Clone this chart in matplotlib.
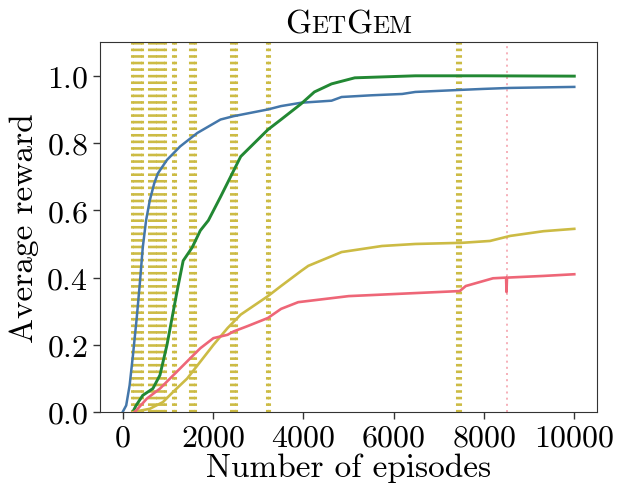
import matplotlib
matplotlib.use("Agg")
import matplotlib.pyplot as plt
from matplotlib.offsetbox import TextArea, HPacker, AnchoredOffsetbox

plt.rcParams["font.family"] = "serif"
plt.rcParams["font.serif"] = ["cmr10"]
plt.rcParams["mathtext.fontset"] = "cm"
plt.rcParams["axes.formatter.use_mathtext"] = True

# curves
blue_x = [0, 80, 156, 230, 313, 380, 447, 520, 603, 700, 782, 983, 1274, 1654,
          2168, 2458, 3218, 3508, 3955, 4626, 4849, 5500, 6190, 6480, 7464,
          7978, 8581, 10000]
blue_y = [0, 0.02, 0.08, 0.17, 0.28, 0.38, 0.49, 0.57, 0.63, 0.68, 0.71, 0.75,
          0.79, 0.83, 0.87, 0.88, 0.90, 0.91, 0.92, 0.926, 0.937, 0.942, 0.946,
          0.952, 0.958, 0.961, 0.964, 0.967]

green_x = [223, 300, 447, 670, 827, 983, 1095, 1207, 1341, 1542, 1721, 1899,
           2168, 2615, 3218, 3508, 3955, 4246, 4626, 5140, 6480, 8000, 10000]
green_y = [0, 0.02, 0.05, 0.07, 0.11, 0.20, 0.28, 0.36, 0.45, 0.49, 0.54, 0.57,
           0.64, 0.76, 0.84, 0.87, 0.917, 0.952, 0.976, 0.994, 1.0, 1.0, 0.999]

yellow_x = [223, 603, 894, 1117, 1430, 1721, 2011, 2324, 2615, 3218, 3508, 3955,
            4112, 4849, 5743, 6480, 7374, 7464, 8134, 8581, 9318, 10000]
yellow_y = [0, 0.01, 0.03, 0.06, 0.10, 0.15, 0.20, 0.25, 0.29, 0.345, 0.375,
            0.42, 0.435, 0.476, 0.494, 0.50, 0.503, 0.503, 0.509, 0.524, 0.538,
            0.545]

red_x = [268, 536, 827, 1050, 1274, 1497, 1721, 2011, 2324, 2458, 2771, 3218,
         3508, 3888, 5006, 6480, 7464, 7598, 8201, 8490, 8500, 8510, 9318, 10000]
red_y = [0, 0.04, 0.07, 0.10, 0.13, 0.16, 0.19, 0.22, 0.23, 0.24, 0.256, 0.28,
         0.307, 0.327, 0.345, 0.354, 0.36, 0.375, 0.398, 0.40, 0.357, 0.40,
         0.405, 0.41]

# episodes marked with vertical lines
yellow_events = [200, 260, 320, 380, 420, 590, 650, 710, 770, 830, 890, 950,
                 1110, 1150, 1490, 1550, 1610, 2410, 2470, 2520, 3190, 3250,
                 7410, 7470]
red_events = [8500]

BLUE = "#4477AA"
GREEN = "#228833"
YELLOW = "#CCBB44"
RED = "#EE6677"

fig = plt.figure(figsize=(6.25, 5.02), dpi=100)
ax = fig.add_axes([0.16, 0.177, 0.795, 0.737])

for xv in yellow_events:
    ax.axvline(xv, color=YELLOW, lw=2.2, linestyle=(0, (0.85, 1.3)), zorder=1)
for xv in red_events:
    ax.axvline(xv, color=RED, lw=1.2, alpha=0.6, linestyle=(0, (1.2, 2.5)), zorder=1)

ax.plot(blue_x, blue_y, color=BLUE, lw=1.8, zorder=3)
ax.plot(green_x, green_y, color=GREEN, lw=2.1, zorder=3)
ax.plot(yellow_x, yellow_y, color=YELLOW, lw=1.9, zorder=3)
ax.plot(red_x, red_y, color=RED, lw=1.9, zorder=3)

ax.set_xlim(-500, 10500)
ax.set_ylim(0, 1.1)
ax.set_xticks([0, 2000, 4000, 6000, 8000, 10000])
ax.set_yticks([0.0, 0.2, 0.4, 0.6, 0.8, 1.0])
ax.tick_params(labelsize=23, length=5, width=1, color="#333333")
for sp in ax.spines.values():
    sp.set_color("#333333")
ax.set_xlabel("Number of episodes", fontsize=24, labelpad=1)
ax.set_ylabel("Average reward", fontsize=24, labelpad=5)

# small caps title
parts = [("G", 24), ("ET", 18), ("G", 24), ("EM", 18)]
boxes = [TextArea(t, textprops=dict(fontsize=s, family="serif")) for t, s in parts]
title = HPacker(children=boxes, align="baseline", pad=0, sep=0)
anchored = AnchoredOffsetbox(loc="lower center", child=title, pad=0, frameon=False,
                             bbox_to_anchor=(0.5, 1.01), bbox_transform=ax.transAxes,
                             borderpad=0)
ax.add_artist(anchored)

fig.savefig("out.png", dpi=100)
